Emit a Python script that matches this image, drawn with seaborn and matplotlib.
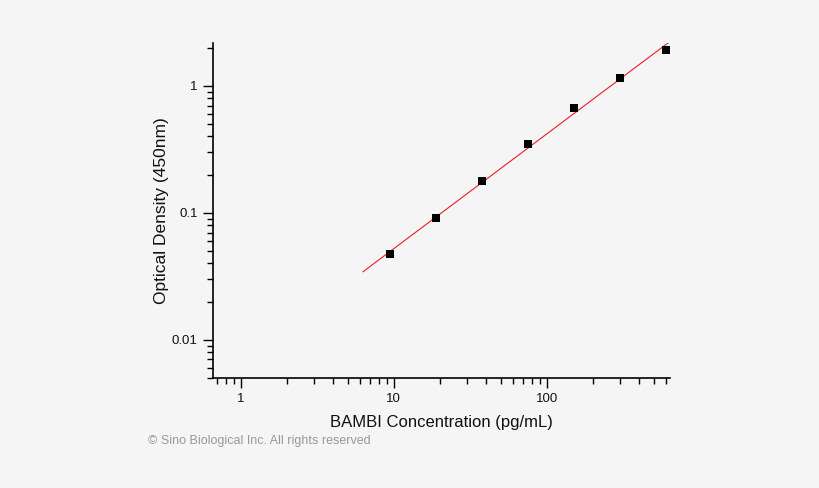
import matplotlib
matplotlib.use("Agg")
import matplotlib.pyplot as plt
import seaborn as sns
import pandas as pd
from matplotlib.ticker import LogLocator, NullFormatter, FixedLocator, FixedFormatter

sns.set_theme(style="ticks")
plt.rcParams['font.family'] = ['Liberation Sans', 'DejaVu Sans']

# data
conc = [9.375, 18.75, 37.5, 75, 150, 300, 600]
od = [0.0475, 0.0914, 0.179, 0.349, 0.671, 1.156, 1.92]
fit_x = [6.27, 646]
fit_y = [0.0343, 2.26]
xticks = [1, 10, 100]
xtick_labels = ["1", "10", "100"]
yticks = [0.01, 0.1, 1]
ytick_labels = ["0.01", "0.1", "1"]

bg = "#f5f5f5"
fig = plt.figure(figsize=(8.2, 4.88), dpi=100, facecolor=bg)
ax = fig.add_axes([213/820, 1-378/488, (670-213)/820, (378-43)/488])
ax.set_facecolor(bg)

df = pd.DataFrame({"x": conc, "y": od})
dfl = pd.DataFrame({"x": fit_x, "y": fit_y})
sns.lineplot(data=dfl, x="x", y="y", ax=ax, color="#e8202a", linewidth=0.8)
sns.scatterplot(data=df, x="x", y="y", ax=ax, marker="s", color="black", s=28,
                edgecolor="black", linewidth=0, zorder=5)

ax.set_xscale("log")
ax.set_yscale("log")
ax.set_xlim(0.656, 640)
ax.set_ylim(0.005, 2.18)

ax.xaxis.set_major_locator(FixedLocator(xticks))
ax.xaxis.set_major_formatter(FixedFormatter(xtick_labels))
ax.yaxis.set_major_locator(FixedLocator(yticks))
ax.yaxis.set_major_formatter(FixedFormatter(ytick_labels))
ax.xaxis.set_minor_locator(LogLocator(base=10, subs=range(2, 10), numticks=20))
ax.yaxis.set_minor_locator(LogLocator(base=10, subs=range(2, 10), numticks=20))
ax.xaxis.set_minor_formatter(NullFormatter())
ax.yaxis.set_minor_formatter(NullFormatter())

for side in ["top", "right"]:
    ax.spines[side].set_visible(False)
for side in ["left", "bottom"]:
    ax.spines[side].set_color("black")
    ax.spines[side].set_linewidth(1.2)

ax.tick_params(which="major", direction="out", length=7, width=1, color="black",
               labelsize=9.5, labelcolor="#111111", pad=4)
ax.tick_params(which="minor", direction="out", length=4, width=1, color="black")

ax.set_xlabel("BAMBI Concentration (pg/mL)", fontsize=12, color="#111111", labelpad=7)
ax.set_ylabel("Optical Density (450nm)", fontsize=12.5, color="#111111", labelpad=2)

fig.text(148/820, 1-441/488, "© Sino Biological Inc. All rights reserved",
         fontsize=9, color="#999999", va="center", ha="left")

fig.savefig("out.png", dpi=100, facecolor=bg)
